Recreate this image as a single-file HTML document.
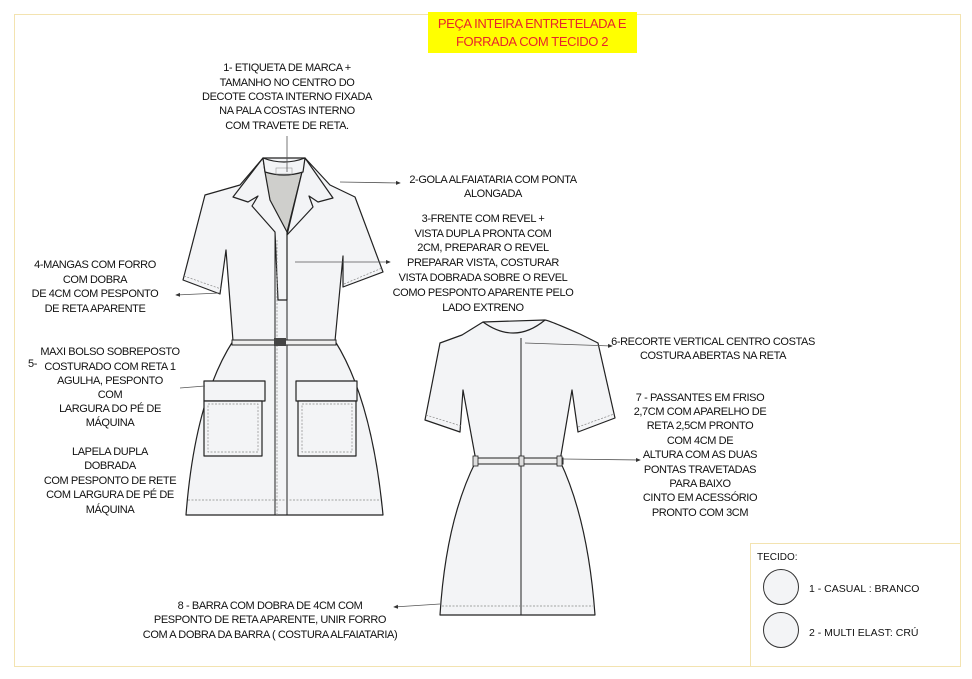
<!DOCTYPE html><html><head><meta charset="utf-8"><style>
body{margin:0;background:#fff}
svg{display:block}
text{font-family:"Liberation Sans",sans-serif;font-size:11px;letter-spacing:-0.4px;fill:#111}
.c{text-anchor:middle}
.g{fill:#f3f4f6;stroke:#222;stroke-width:1.2;stroke-linejoin:round}
.d{fill:none;stroke:#888;stroke-width:.7;stroke-dasharray:2 1.5}
.a{stroke:#555;stroke-width:.8;fill:none}
</style></head><body>
<svg width="972" height="679" viewBox="0 0 972 679">
<defs><marker id="m" markerWidth="6" markerHeight="6" refX="5" refY="3" orient="auto"><path d="M0,0.5L6,3L0,5.5z" fill="#333"/></marker></defs>
<rect x="14.5" y="14.5" width="946" height="652" fill="none" stroke="#f3e3b0" stroke-width="1"/>
<rect x="428" y="12" width="209" height="41" fill="#ffff00"/>
<text class="c" x="532" y="28" style="fill:#e8262b;font-size:13px">PEÇA INTEIRA ENTRETELADA E</text>
<text class="c" x="532" y="46" style="fill:#e8262b;font-size:13px">FORRADA COM TECIDO 2</text>

<!-- FRONT DRESS -->
<path class="g" d="M233,341 L335,341 Q372,400 383,515 L186,515 Q195,400 233,341z"/>
<path class="g" d="M205,195 L183,280 L220,294 L226,250 L233,341 L335,341 L343,256 L343,287 L383,272 L355,197 L330,185 L305,158 L263,158 L240,185z"/>
<path class="g" d="M258,172 L302,172 L287,232 L275,228z" style="fill:#cfcfcc"/>
<path class="g" d="M263,158 L233,197 L248,202 L258,196 L252,206 L275,232 L278,300 L287,300 L287,232 L270,200 L265,172z"/>
<path class="g" d="M305,158 L333,198 L318,202 L309,196 L313,207 L287,235 L302,172z"/>
<path class="g" d="M263,158 Q284,166 305,158 L303,172 Q284,178 265,172z"/>
<rect x="276" y="168" width="16" height="6" fill="none" stroke="#999" stroke-width=".6"/>
<line x1="275" y1="232" x2="275" y2="515" stroke="#222" stroke-width="1"/>
<line x1="287" y1="232" x2="287" y2="515" stroke="#222" stroke-width="1"/>
<line x1="277" y1="240" x2="277" y2="515" class="d"/>
<line x1="184" y1="276" x2="221" y2="289" class="d"/>
<line x1="344" y1="284" x2="382" y2="268" class="d"/>
<line x1="188" y1="500" x2="381" y2="500" class="d"/>
<rect x="232" y="340" width="104" height="5" fill="#eee" stroke="#222" stroke-width="1"/>
<rect x="274" y="338" width="12" height="8" fill="#444"/>
<rect x="204" y="381" width="61" height="20" class="g"/>
<rect x="204" y="401" width="58" height="55" class="g"/>
<rect x="208" y="404" width="50" height="48" class="d"/>
<rect x="296" y="381" width="61" height="20" class="g"/>
<rect x="298" y="401" width="58" height="55" class="g"/>
<rect x="302" y="404" width="50" height="48" class="d"/>

<!-- BACK DRESS -->
<path class="g" d="M476,461 L560,461 Q588,520 595,615 L440,615 Q446,520 476,461z"/>
<path class="g" d="M440,343 L425,420 L460,432 L463,390 L476,461 L560,461 L572,390 L578,432 L615,418 L598,343 L580,334 Q548,320 545,320 L483,322 L462,335z"/>
<path d="M483,322 Q515,345 545,320" fill="none" stroke="#222" stroke-width="1.2"/>
<line x1="521" y1="338" x2="521" y2="615" stroke="#222" stroke-width="1"/>
<line x1="426" y1="415" x2="461" y2="426" class="d"/>
<line x1="578" y1="427" x2="614" y2="414" class="d"/>
<line x1="442" y1="606" x2="593" y2="606" class="d"/>
<rect x="475" y="458" width="88" height="6" fill="#eee" stroke="#222" stroke-width="1"/>
<rect x="473" y="456" width="5" height="10" fill="#ddd" stroke="#222" stroke-width=".8"/>
<rect x="519" y="456" width="5" height="10" fill="#ddd" stroke="#222" stroke-width=".8"/>
<rect x="557" y="456" width="5" height="10" fill="#ddd" stroke="#222" stroke-width=".8"/>

<!-- arrows -->
<line class="a" x1="287" y1="136" x2="287" y2="172"/>
<line class="a" x1="340" y1="182" x2="400" y2="183" marker-end="url(#m)"/>
<line class="a" x1="295" y1="262" x2="390" y2="262" marker-end="url(#m)"/>
<line class="a" x1="220" y1="293" x2="176" y2="295" marker-end="url(#m)"/>
<line class="a" x1="205" y1="386" x2="180" y2="388"/>
<line class="a" x1="525" y1="343" x2="612" y2="346" marker-end="url(#m)"/>
<line class="a" x1="563" y1="459" x2="640" y2="460" marker-end="url(#m)"/>
<line class="a" x1="440" y1="604" x2="394" y2="607" marker-end="url(#m)"/>

<!-- texts -->
<g class="c">
<text x="287" y="71">1- ETIQUETA DE MARCA +</text>
<text x="287" y="86">TAMANHO NO CENTRO DO</text>
<text x="287" y="100">DECOTE COSTA INTERNO FIXADA</text>
<text x="287" y="114">NA PALA COSTAS INTERNO</text>
<text x="287" y="129">COM TRAVETE DE RETA.</text>
<text x="493" y="183">2-GOLA ALFAIATARIA COM PONTA</text>
<text x="493" y="197">ALONGADA</text>
<text x="483" y="222">3-FRENTE COM REVEL +</text>
<text x="483" y="237">VISTA DUPLA  PRONTA COM</text>
<text x="483" y="251">2CM, PREPARAR O REVEL</text>
<text x="483" y="266">PREPARAR VISTA, COSTURAR</text>
<text x="483" y="281">VISTA DOBRADA SOBRE O REVEL</text>
<text x="483" y="296">COMO PESPONTO APARENTE PELO</text>
<text x="483" y="311">LADO EXTRENO</text>
<text x="95" y="268">4-MANGAS COM FORRO</text>
<text x="95" y="283">COM DOBRA</text>
<text x="95" y="297">DE 4CM COM PESPONTO</text>
<text x="95" y="312">DE RETA APARENTE</text>
<text x="110" y="355">MAXI BOLSO SOBREPOSTO</text>
<text x="110" y="370">COSTURADO COM RETA 1</text>
<text x="110" y="384">AGULHA, PESPONTO</text>
<text x="110" y="398">COM</text>
<text x="110" y="412">LARGURA DO PÉ DE</text>
<text x="110" y="426">MÁQUINA</text>
<text x="110" y="455">LAPELA DUPLA</text>
<text x="110" y="469">DOBRADA</text>
<text x="110" y="484">COM PESPONTO DE RETE</text>
<text x="110" y="498">COM LARGURA DE PÉ DE</text>
<text x="110" y="513">MÁQUINA</text>
<text x="713" y="345">6-RECORTE VERTICAL CENTRO COSTAS</text>
<text x="713" y="359">COSTURA ABERTAS NA RETA</text>
<text x="700" y="401">7 - PASSANTES EM FRISO</text>
<text x="700" y="415">2,7CM COM APARELHO DE</text>
<text x="700" y="429">RETA 2,5CM PRONTO</text>
<text x="700" y="444">COM 4CM DE</text>
<text x="700" y="458">ALTURA COM AS DUAS</text>
<text x="700" y="473">PONTAS TRAVETADAS</text>
<text x="700" y="487">PARA BAIXO</text>
<text x="700" y="501">CINTO EM ACESSÓRIO</text>
<text x="700" y="516">PRONTO COM 3CM</text>
<text x="270" y="609">8 - BARRA COM DOBRA DE 4CM COM</text>
<text x="270" y="623">PESPONTO DE RETA APARENTE, UNIR FORRO</text>
<text x="270" y="638">COM A DOBRA DA BARRA ( COSTURA ALFAIATARIA)</text>
</g>
<text x="28" y="367">5-</text>

<!-- legend -->
<rect x="750.5" y="543.5" width="210" height="123" fill="#fff" stroke="#f3e3b0"/>
<text x="757" y="560" style="font-size:10px;letter-spacing:0">TECIDO:</text>
<circle cx="781" cy="587" r="17.5" fill="#f3f4f6" stroke="#333"/>
<circle cx="781" cy="630" r="17.5" fill="#f3f4f6" stroke="#333"/>
<text x="809" y="592" style="font-size:10.5px;letter-spacing:0">1 - CASUAL : BRANCO</text>
<text x="809" y="636" style="font-size:10.5px;letter-spacing:0">2 - MULTI ELAST: CRÚ</text>
</svg>
</body></html>
